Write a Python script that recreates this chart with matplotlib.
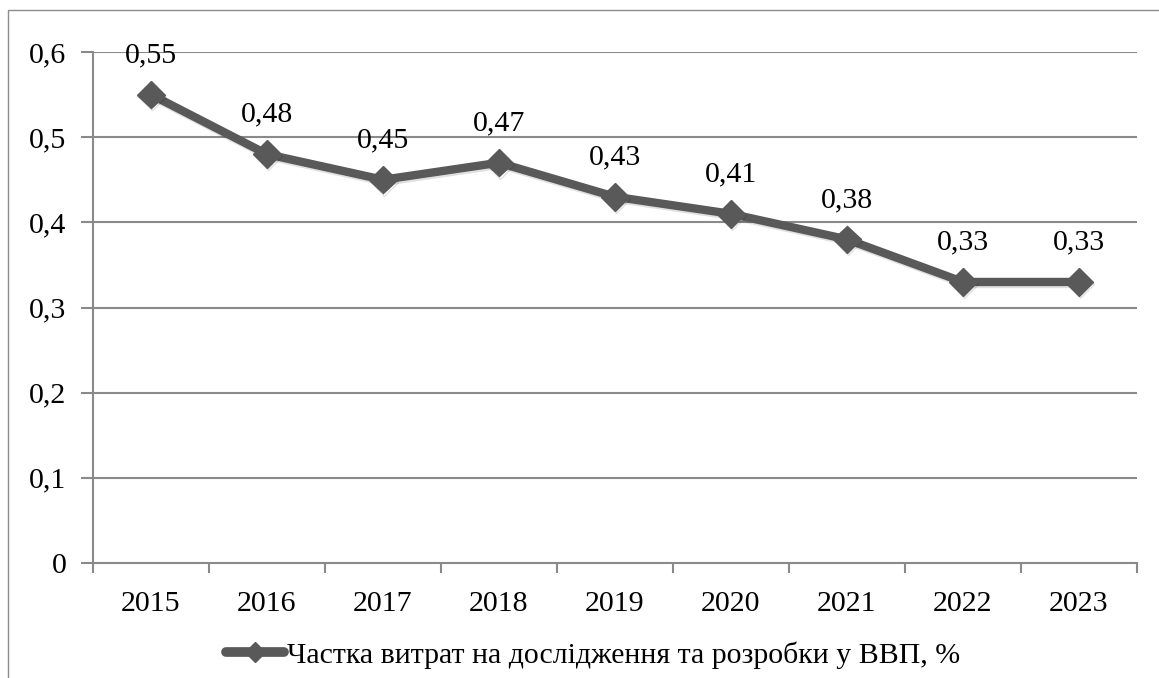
import matplotlib
matplotlib.use("Agg")
import matplotlib.pyplot as plt
from matplotlib.patches import Rectangle
import matplotlib.patheffects as pe

years = ["2015", "2016", "2017", "2018", "2019", "2020", "2021", "2022", "2023"]
values = [0.55, 0.48, 0.45, 0.47, 0.43, 0.41, 0.38, 0.33, 0.33]
value_labels = ["0,55", "0,48", "0,45", "0,47", "0,43", "0,41", "0,38", "0,33", "0,33"]
y_ticks = [0, 0.1, 0.2, 0.3, 0.4, 0.5, 0.6]
y_tick_labels = ["0", "0,1", "0,2", "0,3", "0,4", "0,5", "0,6"]
series_name = "Частка витрат на дослідження та розробки у ВВП, %"

plt.rcParams['font.family'] = ['Liberation Serif', 'DejaVu Serif']

W, H = 1159, 678
fig = plt.figure(figsize=(W / 100, H / 100), dpi=100)
fig.patch.set_facecolor("white")

fig.patches.append(Rectangle((8 / W, -0.05), 1.2, 1 - 10 / H + 0.05,
                             transform=fig.transFigure, fill=False,
                             edgecolor="#8c8c8c", linewidth=1.0))

ax = fig.add_axes([93 / W, 1 - 563 / H, (1137 - 93) / W, (563 - 52) / H])
x = list(range(len(years)))

grid_c = "#8a8a8a"
for yt in y_ticks[1:]:
    ax.axhline(yt, color=grid_c, linewidth=1.5, zorder=1)

line_c = "#595959"
ax.plot(x, values, color=line_c, linewidth=6, marker="D", markersize=14,
        markerfacecolor=line_c, markeredgecolor=line_c, zorder=3,
        solid_capstyle="round",
        path_effects=[pe.SimpleLineShadow(offset=(1, -1.5), alpha=0.12, shadow_color="black"),
                      pe.Normal()])

for xi, v, lab in zip(x, values, value_labels):
    ax.annotate(lab, (xi, v), xytext=(0, 19), textcoords="offset points",
                ha="center", va="bottom", fontsize=21.5, color="black", zorder=4)

ax.set_xlim(-0.5, len(years) - 0.5)
ax.set_ylim(0, 0.6)
ax.set_yticks(y_ticks)
ax.set_yticklabels(y_tick_labels, fontsize=21.5)
ax.set_xticks(x)
ax.set_xticklabels(years, fontsize=21.5)
ax.set_xticks([i - 0.5 for i in range(len(years) + 1)], minor=True)
ax.tick_params(axis="x", which="major", length=0, pad=20)
ax.tick_params(axis="x", which="minor", length=7, width=1.5, color=grid_c, direction="out")
ax.tick_params(axis="y", which="major", length=9, width=1.5, color=grid_c, direction="out", pad=10)

for s in ["top", "right"]:
    ax.spines[s].set_visible(False)
for s in ["left", "bottom"]:
    ax.spines[s].set_color(grid_c)
    ax.spines[s].set_linewidth(1.5)

handle, = ax.plot([], [], color=line_c, linewidth=7, marker="D", markersize=10,
                  markerfacecolor=line_c, markeredgecolor=line_c, solid_capstyle="round")
fig.legend([handle], [series_name], loc="center", bbox_to_anchor=(0.512, 1 - 655 / H),
           frameon=False, fontsize=21.5, handlelength=1.95, handletextpad=0.1,
           borderaxespad=0)

fig.savefig("out.png", dpi=100, facecolor="white")
